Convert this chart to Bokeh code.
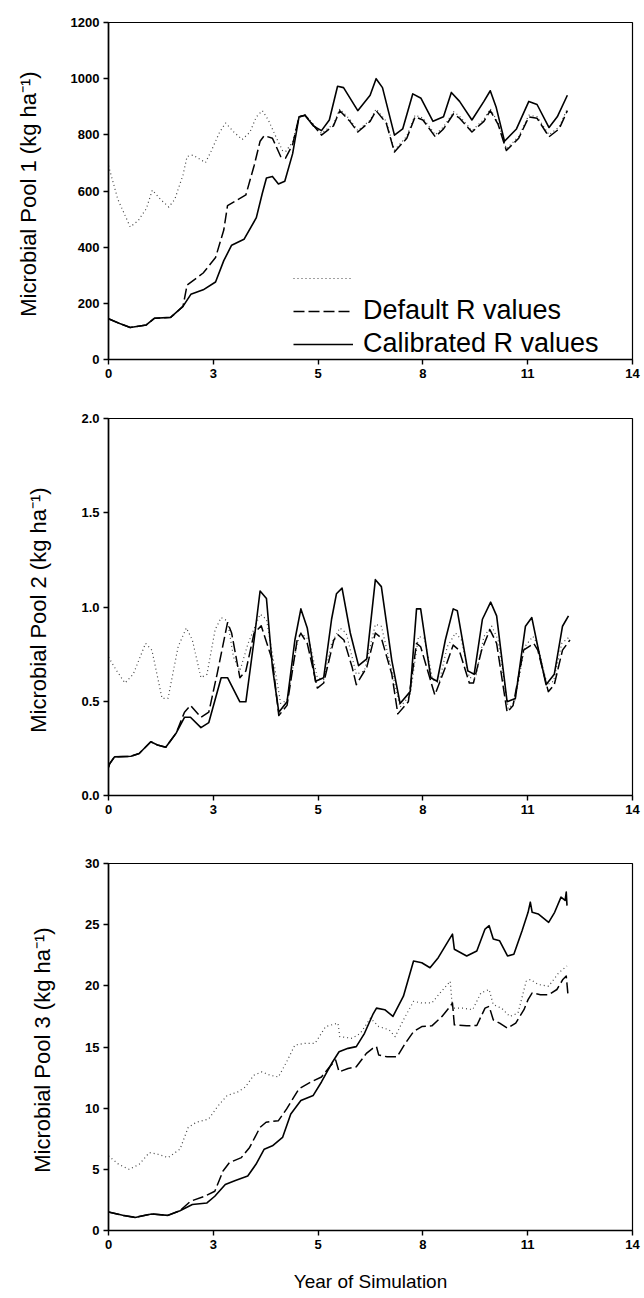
from bokeh.plotting import figure
from bokeh.models import Range1d, FixedTicker, Legend, LegendItem
from bokeh.layouts import column
from bokeh.embed import file_html
from bokeh.resources import INLINE

# ---------------- shared axis ----------------
x_ticks = [0, 2.8, 5.6, 8.4, 11.2, 14]
x_tick_labels = ["0", "3", "5", "8", "11", "14"]

# ---------------- Panel 1: Microbial Pool 1 ----------------
p1_cal_x = [0.0, 0.3, 0.58, 1.01, 1.23, 1.66, 1.99, 2.2, 2.53, 2.86, 3.08, 3.29, 3.62, 3.95, 4.11, 4.22, 4.38,
            4.54, 4.71, 4.92, 5.09, 5.25, 5.47, 5.69, 5.9, 6.12, 6.28, 6.66, 6.99, 7.15, 7.32, 7.64, 7.86,
            8.13, 8.35, 8.67, 8.95, 9.16, 9.38, 9.71, 10.03, 10.2, 10.36, 10.58, 10.9, 11.23, 11.45, 11.77,
            11.99, 12.26]
p1_cal_y = [145, 128, 114, 123, 147, 150, 189, 232, 248, 276, 352, 407, 428, 505, 592, 646, 652,
            625, 635, 733, 864, 870, 832, 815, 853, 973, 968, 886, 941, 1000, 968, 799, 821,
            946, 930, 848, 864, 951, 919, 853, 919, 957, 897, 777, 821, 919, 908, 826,
            864, 941]

p1_def_x = [0.0, 0.3, 0.58, 1.01, 1.23, 1.66, 1.99, 2.1, 2.53, 2.86, 3.08, 3.18, 3.4, 3.67, 3.89, 4.05, 4.16,
            4.38, 4.6, 4.73, 4.92, 5.09, 5.25, 5.69, 6.01, 6.18, 6.45, 6.66, 6.99, 7.15, 7.42, 7.64, 7.97,
            8.19, 8.4, 8.73, 8.95, 9.22, 9.38, 9.71, 10.03, 10.2, 10.41, 10.63, 10.96, 11.23, 11.45, 11.77,
            12.04, 12.26]
p1_def_y = [145, 128, 114, 123, 147, 150, 189, 265, 308, 363, 461, 548, 565, 586, 690, 777, 797,
            788, 723, 717, 766, 864, 870, 799, 832, 886, 848, 810, 848, 886, 842, 739, 788,
            864, 853, 793, 821, 875, 859, 810, 848, 886, 837, 744, 788, 864, 859, 793,
            821, 886]

p1_obs_x = [0.0, 0.25, 0.58, 0.79, 1.01, 1.17, 1.39, 1.61, 1.77, 1.99, 2.1, 2.26, 2.59, 2.75, 2.97, 3.13,
            3.35, 3.57, 3.78, 3.95, 4.11, 4.27, 4.49, 4.65, 4.73, 4.92, 5.09, 5.25, 5.69, 6.01, 6.18, 6.45,
            6.66, 6.99, 7.15, 7.42, 7.64, 7.97, 8.19, 8.4, 8.73, 8.95, 9.22, 9.38, 9.71, 10.03, 10.2, 10.41,
            10.63, 10.96, 11.23, 11.45, 11.77, 12.04, 12.26]
p1_obs_y = [690, 570, 472, 494, 537, 603, 570, 543, 570, 657, 723, 728, 701, 744, 810, 842,
            810, 783, 810, 864, 886, 853, 788, 744, 740, 775, 866, 872, 805, 838, 892, 855,
            815, 852, 892, 848, 745, 795, 870, 860, 800, 828, 882, 866, 815, 855, 893, 843,
            750, 794, 870, 865, 800, 828, 893]

p1_y_ticks = [0, 200, 400, 600, 800, 1000, 1200]

# ---------------- Panel 2: Microbial Pool 2 ----------------
p2_cal_x = [0.0, 0.03, 0.16, 0.6, 0.82, 1.13, 1.31, 1.53, 1.81, 2.03, 2.19, 2.47, 2.68, 3.01, 3.18, 3.51,
            3.67, 3.89, 4.05, 4.22, 4.38, 4.55, 4.77, 4.98, 5.14, 5.31, 5.53, 5.75, 5.96, 6.09, 6.24, 6.46,
            6.68, 6.9, 7.13, 7.29, 7.57, 7.79, 8.06, 8.23, 8.34, 8.61, 8.78, 9.0, 9.21, 9.32, 9.6, 9.77,
            9.99, 10.21, 10.37, 10.65, 10.87, 11.14, 11.31, 11.47, 11.69, 11.91, 12.13, 12.29]
p2_cal_y = [0.15, 0.168, 0.205, 0.208, 0.223, 0.285, 0.268, 0.256, 0.332, 0.415, 0.415, 0.36, 0.387, 0.625, 0.625, 0.497,
            0.497, 0.825, 1.085, 1.045, 0.68, 0.442, 0.497, 0.825, 0.99, 0.889, 0.606, 0.625, 0.935, 1.07, 1.1, 0.862,
            0.689, 0.725, 1.145, 1.108, 0.716, 0.488, 0.551, 0.99, 0.99, 0.625, 0.606, 0.825, 0.99, 0.98, 0.661, 0.643,
            0.935, 1.026, 0.953, 0.497, 0.515, 0.898, 0.944, 0.789, 0.588, 0.643, 0.898, 0.953]

p2_def_x = [0.0, 0.03, 0.16, 0.6, 0.82, 1.13, 1.31, 1.53, 1.81, 2.03, 2.19, 2.47, 2.68, 2.9, 3.18, 3.29,
            3.51, 3.67, 3.89, 4.08, 4.38, 4.55, 4.77, 5.04, 5.14, 5.31, 5.58, 5.75, 6.02, 6.13, 6.29, 6.51,
            6.62, 6.9, 7.13, 7.29, 7.57, 7.73, 8.01, 8.23, 8.34, 8.61, 8.72, 9.0, 9.21, 9.37, 9.64, 9.75,
            9.97, 10.19, 10.37, 10.65, 10.81, 11.09, 11.36, 11.47, 11.75, 11.91, 12.13, 12.33]
p2_def_y = [0.15, 0.168, 0.205, 0.208, 0.223, 0.285, 0.268, 0.256, 0.332, 0.442, 0.478, 0.415, 0.442, 0.643, 0.917, 0.862,
            0.625, 0.661, 0.862, 0.9, 0.716, 0.424, 0.478, 0.825, 0.86, 0.807, 0.57, 0.597, 0.825, 0.853, 0.825, 0.68,
            0.588, 0.68, 0.862, 0.835, 0.643, 0.433, 0.497, 0.807, 0.789, 0.606, 0.533, 0.68, 0.798, 0.771, 0.597, 0.597,
            0.771, 0.88, 0.807, 0.442, 0.478, 0.771, 0.807, 0.771, 0.551, 0.588, 0.771, 0.825]

p2_obs_x = [0.0, 0.22, 0.44, 0.66, 0.99, 1.16, 1.43, 1.59, 1.86, 2.08, 2.24, 2.47, 2.63, 2.85, 3.01, 3.18,
            3.34, 3.51, 3.73, 4.05, 4.22, 4.44, 4.6, 4.77, 5.04, 5.14, 5.36, 5.58, 5.75, 5.96, 6.18, 6.35,
            6.62, 6.84, 7.13, 7.29, 7.57, 7.79, 8.06, 8.28, 8.44, 8.66, 8.83, 9.05, 9.27, 9.43, 9.64, 9.81,
            10.03, 10.24, 10.41, 10.68, 10.85, 11.12, 11.34, 11.45, 11.72, 11.89, 12.11, 12.33]
p2_obs_y = [0.734, 0.661, 0.597, 0.643, 0.807, 0.771, 0.515, 0.515, 0.789, 0.889, 0.825, 0.625, 0.643, 0.88, 0.944, 0.926,
            0.734, 0.661, 0.807, 0.962, 0.935, 0.68, 0.488, 0.506, 0.807, 0.862, 0.825, 0.625, 0.615, 0.807, 0.889, 0.862,
            0.643, 0.661, 0.908, 0.898, 0.661, 0.469, 0.533, 0.844, 0.835, 0.615, 0.597, 0.789, 0.862, 0.825, 0.625, 0.625,
            0.844, 0.898, 0.825, 0.46, 0.497, 0.789, 0.844, 0.807, 0.588, 0.606, 0.807, 0.844]

p2_y_ticks = [0, 0.5, 1.0, 1.5, 2.0]
p2_y_labels = ["0.0", "0.5", "1.0", "1.5", "2.0"]

# ---------------- Panel 3: Microbial Pool 3 ----------------
p3_cal_x = [0.0, 0.38, 0.71, 1.15, 1.59, 1.91, 2.24, 2.63, 2.84, 3.12, 3.39, 3.72, 3.94, 4.16, 4.38, 4.65,
            4.87, 5.14, 5.47, 5.69, 5.96, 6.16, 6.4, 6.62, 6.84, 7.06, 7.16, 7.38, 7.6, 7.88, 8.15, 8.37,
            8.59, 8.81, 9.08, 9.19, 9.24, 9.57, 9.84, 10.06, 10.17, 10.28, 10.45, 10.66, 10.83, 11.05, 11.21,
            11.27, 11.32, 11.48, 11.76, 11.92, 12.09, 12.2, 12.23, 12.25]
p3_cal_y = [1.51, 1.24, 1.07, 1.35, 1.24, 1.62, 2.12, 2.25, 2.8, 3.76, 4.09, 4.45, 5.41, 6.65, 6.92, 7.61,
            9.53, 10.63, 11.04, 12.14, 13.65, 14.61, 14.89, 15.03, 16.12, 17.64, 18.18, 18.05, 17.5, 19.15, 22.03, 21.89,
            21.48, 22.3, 23.68, 24.23, 22.99, 22.44, 22.85, 24.64, 24.92, 23.82, 23.68, 22.44, 22.58, 24.5, 26.01,
            26.84, 26.01, 25.88, 25.19, 26.01, 27.25, 26.98, 27.66, 26.56]

p3_def_x = [0.0, 0.38, 0.71, 1.15, 1.59, 1.91, 2.19, 2.57, 2.84, 3.06, 3.23, 3.55, 3.77, 4.05, 4.21, 4.54,
            4.76, 5.09, 5.41, 5.69, 5.91, 6.07, 6.16, 6.4, 6.62, 6.89, 7.06, 7.16, 7.22, 7.44, 7.71, 7.93,
            8.15, 8.37, 8.64, 8.91, 9.13, 9.19, 9.24, 9.57, 9.84, 10.06, 10.17, 10.28, 10.45, 10.66, 10.88,
            11.1, 11.21, 11.32, 11.54, 11.76, 11.98, 12.14, 12.23, 12.28]
p3_def_y = [1.51, 1.24, 1.07, 1.35, 1.24, 1.62, 2.39, 2.8, 3.21, 4.86, 5.55, 5.96, 6.79, 8.43, 8.85, 8.98,
            9.94, 11.59, 12.14, 12.55, 13.38, 13.93, 12.97, 13.24, 13.38, 14.48, 14.89, 15.03, 14.34, 14.2, 14.2, 15.3,
            16.26, 16.67, 16.73, 17.5, 18.32, 18.6, 16.81, 16.73, 16.76, 18.18, 18.32, 17.22, 16.95, 16.54, 16.95,
            18.05, 18.87, 19.42, 19.28, 19.28, 19.7, 20.52, 20.8, 19.15]

p3_obs_x = [0.0, 0.27, 0.55, 0.82, 1.09, 1.31, 1.59, 1.91, 2.13, 2.35, 2.68, 2.9, 3.17, 3.45, 3.66, 3.88,
            4.1, 4.32, 4.54, 4.76, 4.98, 5.25, 5.52, 5.8, 6.13, 6.18, 6.51, 6.73, 7.0, 7.22, 7.5, 7.66,
            7.88, 8.15, 8.37, 8.64, 8.86, 9.13, 9.19, 9.46, 9.73, 9.95, 10.17, 10.28, 10.5, 10.72, 10.94,
            11.16, 11.27, 11.48, 11.76, 12.03, 12.25]
p3_obs_y = [6.1, 5.41, 5.0, 5.41, 6.37, 6.24, 5.96, 6.65, 8.43, 8.85, 9.12, 10.08, 11.04, 11.32, 11.73, 12.69,
            12.97, 12.69, 12.55, 13.79, 15.16, 15.3, 15.3, 16.67, 16.95, 15.85, 15.71, 16.12, 17.36, 16.67, 16.4, 15.85,
            17.22, 18.73, 18.6, 18.6, 19.42, 20.38, 18.18, 18.18, 18.05, 19.42, 19.7, 18.46, 18.18, 17.5, 17.77,
            20.38, 20.52, 20.11, 19.97, 21.07, 21.62]

p3_y_ticks = [0, 5, 10, 15, 20, 25, 30]

legend_labels = [" ", "Default R values", "Calibrated R values"]

FONT = "Liberation Sans"


def make_panel(height, b_left, b_top, b_right, b_bottom, ymax, yticks, ylabels, ytitle, xtitle=None):
    p = figure(width=644, height=height, output_backend="svg", toolbar_location=None,
               x_range=Range1d(0, 14), y_range=Range1d(0, ymax),
               min_border_left=b_left, min_border_top=b_top,
               min_border_right=b_right, min_border_bottom=b_bottom)
    p.grid.visible = False
    p.outline_line_color = "black"
    p.outline_line_width = 1.2
    p.background_fill_color = "white"
    p.border_fill_color = "white"

    p.xaxis.ticker = FixedTicker(ticks=x_ticks)
    p.xaxis.major_label_overrides = {t: l for t, l in zip(x_ticks, x_tick_labels)}
    p.yaxis.ticker = FixedTicker(ticks=yticks)
    p.yaxis.major_label_overrides = {t: l for t, l in zip(yticks, ylabels)}

    for ax in (p.xaxis[0], p.yaxis[0]):
        ax.axis_line_color = "black"
        ax.axis_line_width = 1.6
        ax.major_tick_line_color = "black"
        ax.major_tick_line_width = 1.4
        ax.major_tick_in = 0
        ax.major_tick_out = 5
        ax.minor_tick_line_color = None
        ax.major_label_text_font = FONT
        ax.major_label_text_font_style = "bold"
        ax.major_label_text_font_size = "13px"
        ax.major_label_text_color = "black"
        ax.major_label_standoff = 4
        ax.axis_label_text_font = FONT
        ax.axis_label_text_font_style = "normal"
        ax.axis_label_text_color = "black"

    p.yaxis.axis_label = ytitle
    p.yaxis.axis_label_text_font_size = "22px"
    p.yaxis.axis_label_standoff = 27
    if xtitle:
        p.xaxis.axis_label = xtitle
        p.xaxis.axis_label_text_font_size = "19px"
        p.xaxis.axis_label_standoff = 19
    return p


def add_lines(p, ox, oy, dx, dy, cx, cy):
    r_obs = p.line(ox, oy, line_color="#444444", line_width=1.2, line_dash="1 3",
                   line_join="round")
    r_def = p.line(dx, dy, line_color="black", line_width=1.5, line_dash="11 4",
                   line_join="round")
    r_cal = p.line(cx, cy, line_color="black", line_width=1.6, line_join="round")
    return r_obs, r_def, r_cal


p1 = make_panel(400, 100, 22, 12, 41, 1200, p1_y_ticks, [str(v) for v in p1_y_ticks],
                "Microbial  Pool 1 (kg ha\u207b\u00b9)")
r1 = add_lines(p1, p1_obs_x, p1_obs_y, p1_def_x, p1_def_y, p1_cal_x, p1_cal_y)

legend = Legend(items=[LegendItem(label=lab, renderers=[r]) for lab, r in zip(legend_labels, r1)],
                location=(185, 0), orientation="vertical",
                glyph_width=60, glyph_height=30, label_standoff=10, spacing=2, padding=0,
                label_text_font=FONT, label_text_font_size="27px", label_text_color="black",
                border_line_alpha=0, background_fill_alpha=0)
p1.add_layout(legend)

p2 = make_panel(430, 104, 18, 10, 35, 2.0, p2_y_ticks, p2_y_labels,
                "Microbial  Pool 2 (kg ha\u207b\u00b9)")
add_lines(p2, p2_obs_x, p2_obs_y, p2_def_x, p2_def_y, p2_cal_x, p2_cal_y)

p3 = make_panel(468, 108, 33, 8, 68, 30, p3_y_ticks, [str(v) for v in p3_y_ticks],
                "Microbial  Pool 3 (kg ha\u207b\u00b9)", xtitle="Year of Simulation")
add_lines(p3, p3_obs_x, p3_obs_y, p3_def_x, p3_def_y, p3_cal_x, p3_cal_y)

layout = column(p1, p2, p3, spacing=0)

with open("out.html", "w") as f:
    f.write(file_html(layout, INLINE))
